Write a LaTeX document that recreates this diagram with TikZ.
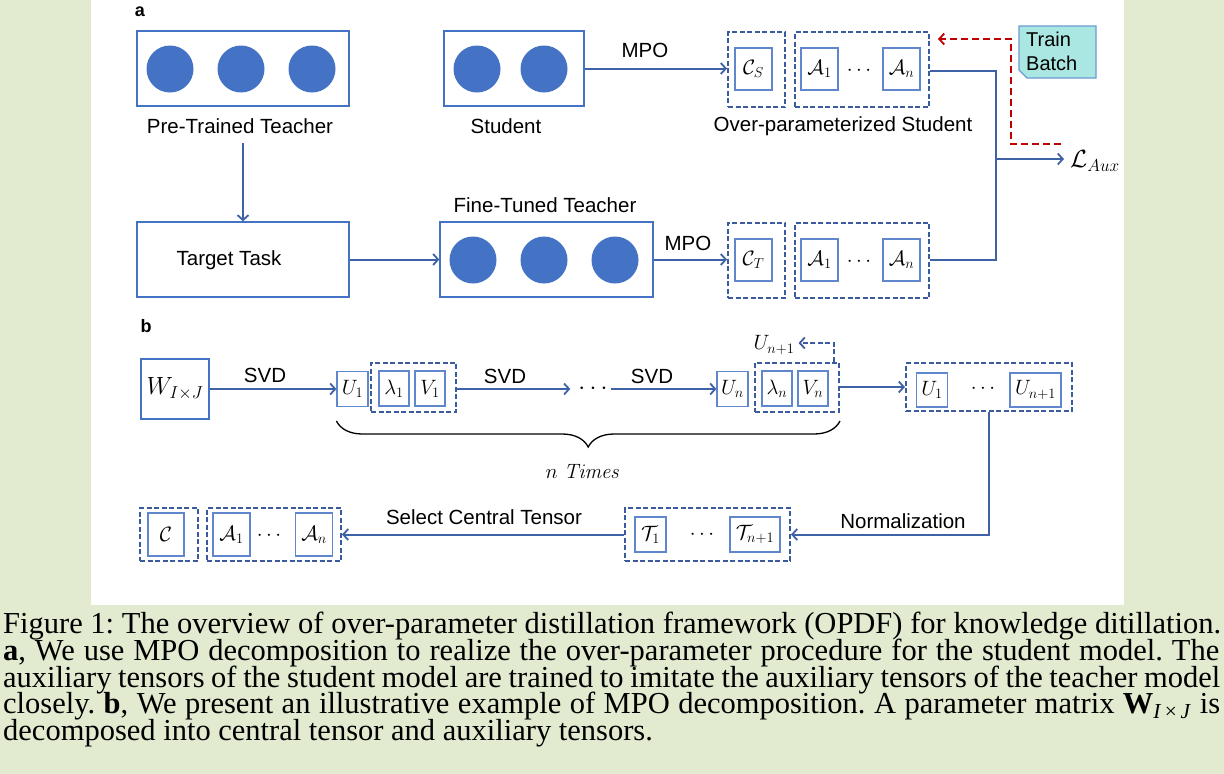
\documentclass[tikz,border=0pt]{standalone}
\usepackage[no-math]{fontspec}
\setmainfont{Liberation Sans}
\newfontfamily\capfont{Liberation Serif}
\usetikzlibrary{arrows.meta,decorations.pathreplacing}
\definecolor{bg}{HTML}{E2EBD0}
\definecolor{boxblue}{HTML}{4472C4}
\definecolor{lineblue}{HTML}{3F62A6}
\definecolor{dashblue}{HTML}{3A5C9E}
\definecolor{circblue}{HTML}{4472C4}
\definecolor{redd}{HTML}{C00000}
\definecolor{cyanfill}{HTML}{AAE7E2}
\definecolor{cyanedge}{HTML}{6A9BD1}
\frenchspacing
\begin{document}
\begin{tikzpicture}[x=1pt,y=-1pt,
 lbl/.style={font=\fontsize{20.5}{24}\selectfont, inner sep=0},
 mlbl/.style={font=\fontsize{22}{24}\selectfont, inner sep=0},
 bigbox/.style={draw=boxblue, line width=1.4pt, inner sep=0},
 dotc/.style={circle, fill=circblue, minimum size=47pt, inner sep=0},
 sbox/.style={draw=boxblue!85!white, line width=1.2pt, inner sep=0, font=\fontsize{22}{24}\selectfont},
 dgroup/.style={draw=dashblue, dash pattern=on 5pt off 2.5pt, line width=2pt, inner sep=0},
 tip/.style={-{Straight Barb[length=5pt,width=11pt,line width=1.8pt]}},
 arr/.style={draw=lineblue, line width=2pt, tip},
 conn/.style={draw=lineblue, line width=2pt},
 dasharr/.style={draw=dashblue, line width=1.8pt, dash pattern=on 5pt off 2.5pt, tip},
 reddash/.style={draw=redd, line width=1.8pt, dash pattern=on 7pt off 4pt, tip},
 capline/.style={anchor=base west, inner sep=0, font=\capfont\fontsize{30.5}{27}\selectfont},
]
\useasboundingbox (0,0) rectangle (1224,774);
\fill[bg] (0,0) rectangle (1224,774);
\fill[white] (91,0) rectangle (1124,605);

% ---------- part a ----------
\node[font=\bfseries\fontsize{18}{20}\selectfont, inner sep=0] (la) at (140,12) {a};

\node[bigbox, minimum width=212pt, minimum height=75pt] (pt) at (243,68.5) {};
\foreach \x [count=\i] in {170,241,312} \node[dotc] (ptc\i) at (\x,69) {};
\node[lbl] (ptl) at (240,126) {Pre-Trained Teacher};

\node[bigbox, minimum width=140pt, minimum height=75pt] (st) at (514,68.5) {};
\foreach \x [count=\i] in {477,544} \node[dotc] (stc\i) at (\x,69) {};
\node[lbl] (stl) at (506,126) {Student};

\node[dgroup, minimum width=57pt, minimum height=75pt] (csg) at (756.5,69.5) {};
\node[sbox, minimum width=37pt, minimum height=42pt] (cs) at (753.5,69) {$\mathcal{C}_S$};
\node[dgroup, minimum width=134pt, minimum height=75pt] (asg) at (862,69.5) {};
\node[sbox, minimum width=37pt, minimum height=42pt] (as1) at (819.5,69) {$\mathcal{A}_1$};
\node[sbox, minimum width=37pt, minimum height=42pt] (asn) at (901.5,69) {$\mathcal{A}_n$};
\node[mlbl] (asd) at (859,71) {$\cdots$};
\node[lbl] (osl) at (843,126) {Over-parameterized Student};
\node[lbl] (mpo1) at (645,50) {MPO};
\draw[arr] (st.east) -- (st.east -| csg.west);

\node[bigbox, minimum width=212pt, minimum height=75pt] (tt) at (243,259.5) {};
\node[lbl] (ttl) at (229,260) {Target Task};
\node[bigbox, minimum width=213pt, minimum height=75pt] (ft) at (546.5,259.5) {};
\foreach \x [count=\i] in {473,544,615} \node[dotc] (ftc\i) at (\x,260) {};
\node[lbl] (ftl) at (545,205) {Fine-Tuned Teacher};

\node[dgroup, minimum width=57pt, minimum height=75pt] (ctg) at (756.5,260) {};
\node[sbox, minimum width=37pt, minimum height=42pt] (ct) at (753.5,260) {$\mathcal{C}_T$};
\node[dgroup, minimum width=134pt, minimum height=75pt] (atg) at (862,260) {};
\node[sbox, minimum width=37pt, minimum height=42pt] (at1) at (819.5,260) {$\mathcal{A}_1$};
\node[sbox, minimum width=37pt, minimum height=42pt] (atn) at (901.5,260) {$\mathcal{A}_n$};
\node[mlbl] (atd) at (859,262) {$\cdots$};
\node[lbl] (mpo2) at (688,243) {MPO};

\coordinate (ptd) at (243,143);
\draw[arr] (ptd) -- (tt.north);
\draw[arr] (tt.east) -- (ft.west);
\draw[arr] (ft.east) -- (ft.east -| ctg.west);

\coordinate (j1) at (996,71);
\coordinate (j2) at (996,260);
\coordinate (jm) at (996,159);
\draw[conn] (asg.east |- j1) -- (j1) -- (j2) -- (atg.east);
\node[font=\fontsize{23}{24}\selectfont, inner sep=0, anchor=west] (laux) at (1070,161) {$\mathcal{L}_{Aux}$};
\draw[arr] (jm) -- (jm -| laux.west) [shorten >=6pt];

\path[fill=cyanfill, draw=cyanedge, line width=1.2pt] (1019,26) -- (1096,26) -- (1096,78) -- (1027,78) -- (1019,70) -- cycle;
\node[font=\fontsize{20}{24}\selectfont, inner sep=0, anchor=north west, align=left] (tb) at (1026,32) {Train\\Batch};

\coordinate (r1) at (1061,144);
\coordinate (r2) at (1011,144);
\coordinate (r3) at (1011,39);
\coordinate (r4) at (938,39);
\draw[reddash] (r1) -- (r2) -- (r3) -- (r4);

% ---------- part b ----------
\node[font=\bfseries\fontsize{18}{20}\selectfont, inner sep=0] (lb) at (146,326) {b};

\node[bigbox, minimum width=68pt, minimum height=60pt, font=\fontsize{23}{24}\selectfont] (w) at (175,389) {$W_{I\times J}$};
\node[sbox, minimum width=31pt, minimum height=35pt] (u1) at (352.5,389) {$U_1$};
\node[dgroup, minimum width=85pt, minimum height=49pt] (g1) at (413.5,387) {};
\node[sbox, minimum width=30pt, minimum height=35pt] (l1) at (394,388.5) {$\lambda_1$};
\node[sbox, minimum width=30pt, minimum height=35pt] (v1) at (430,388.5) {$V_1$};
\node[font=\fontsize{28}{30}\selectfont, inner sep=0] (dd) at (593,389) {$\cdots$};
\node[sbox, minimum width=31pt, minimum height=35pt] (un) at (732.5,389) {$U_n$};
\node[dgroup, minimum width=84pt, minimum height=49pt] (gn) at (797,387) {};
\node[sbox, minimum width=30pt, minimum height=35pt] (ln) at (777,388.5) {$\lambda_n$};
\node[sbox, minimum width=30pt, minimum height=35pt] (vn) at (813,388.5) {$V_n$};
\node[mlbl] (un1l) at (774,345) {$U_{n+1}$};
\node[dgroup, minimum width=166pt, minimum height=48pt] (gr) at (989,387) {};
\node[sbox, minimum width=31pt, minimum height=34pt] (ru1) at (932,390) {$U_1$};
\node[mlbl] (rd) at (983,389) {$\cdots$};
\node[sbox, minimum width=51pt, minimum height=34pt] (run) at (1035.5,390) {$U_{n+1}$};

\node[lbl] (svd1) at (265,375) {SVD};
\node[lbl] (svd2) at (505,376) {SVD};
\node[lbl] (svd3) at (652,376) {SVD};

\draw[arr] (w.east) -- (u1.west);
\draw[arr] (g1.east |- u1.east) -- (dd.west |- u1.east) [shorten >=8pt];
\draw[arr] (dd.east |- un.west) -- (un.west) [shorten <=3pt];
\draw[arr] (gn.east) -- (gr.west);
\coordinate (ua) at (834,343);
\draw[dasharr] (gn.north -| ua) -- (ua) -- (ua -| un1l.east) [shorten >=4pt];

\draw[decorate, decoration={brace, mirror, amplitude=26pt}, line width=1.3pt] (u1.west |- 0,421) -- (gn.east |- 0,421);
\node[mlbl] (nt) at (583,471) {$n\ \mathit{Times}$};

\node[dgroup, minimum width=165pt, minimum height=53pt] (tg) at (707.5,534.5) {};
\node[sbox, minimum width=31pt, minimum height=35pt] (t1) at (650.5,534.5) {$\mathcal{T}_1$};
\node[mlbl] (td) at (702,535) {$\cdots$};
\node[sbox, minimum width=50pt, minimum height=35pt] (tn) at (755,534.5) {$\mathcal{T}_{n+1}$};
\node[lbl] (norm) at (903,521) {Normalization};
\draw[arr] (gr.south) |- (tg.east);

\node[dgroup, minimum width=58pt, minimum height=53pt] (cg) at (169,534.5) {};
\node[sbox, minimum width=36pt, minimum height=43pt] (cc) at (166,534.5) {$\mathcal{C}$};
\node[dgroup, minimum width=134pt, minimum height=53pt] (ag) at (274,534.5) {};
\node[sbox, minimum width=37pt, minimum height=43pt] (a1) at (231.5,534.5) {$\mathcal{A}_1$};
\node[mlbl] (ad) at (269,536) {$\cdots$};
\node[sbox, minimum width=37pt, minimum height=43pt] (an) at (314,534.5) {$\mathcal{A}_n$};
\node[lbl] (sel) at (484,517) {Select Central Tensor};
\draw[arr] (tg.west) -- (ag.east);

% ---------- caption ----------
\node[capline] (c1) at (3,633) {\makebox[1218pt][s]{Figure 1: The overview of over-parameter distillation framework (OPDF) for knowledge ditillation.}};
\node[capline] (c2) at (3,660) {\makebox[1216pt][s]{\textbf{a}, We use MPO decomposition to realize the over-parameter procedure for the student model. The}};
\node[capline] (c3) at (3,687) {\makebox[1217pt][s]{auxiliary tensors of the student model are trained to imitate the auxiliary tensors of the teacher model}};
\node[capline] (c4) at (3,713) {\makebox[1217pt][s]{closely. \textbf{b}, We present an illustrative example of MPO decomposition. A parameter matrix \textbf{W}\textsubscript{\textit{I}\,×\,\textit{J}} is}};
\node[capline] (c5) at (3,740) {decomposed into central tensor and auxiliary tensors.};
\end{tikzpicture}
\end{document}
